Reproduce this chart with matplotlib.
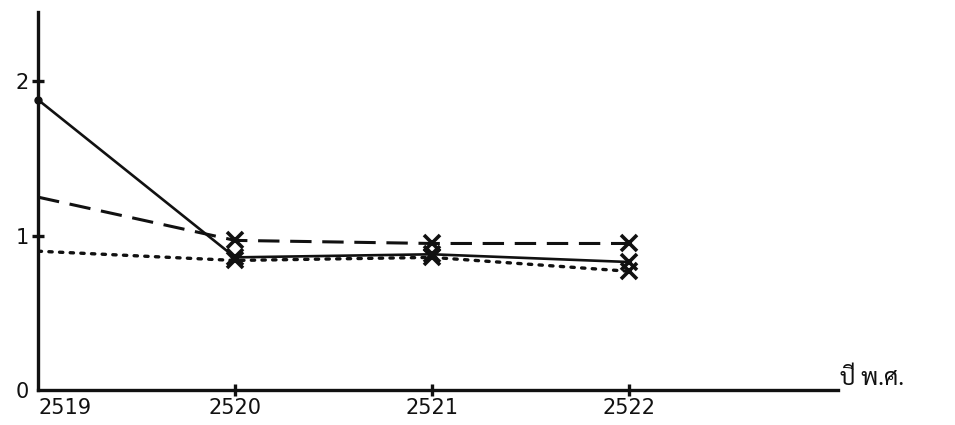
import matplotlib
matplotlib.use("Agg")
import matplotlib.pyplot as plt
from matplotlib import font_manager as fm

# Years (Buddhist Era) and the three indices plotted per year
years = [2519, 2520, 2521, 2522]
solid_vals = [1.88, 0.86, 0.88, 0.83]
dashed_vals = [1.25, 0.97, 0.95, 0.95]
dotted_vals = [0.90, 0.84, 0.86, 0.77]

x_tick_labels = ["2519", "2520", "2521", "2522"]
y_ticks = [0, 1, 2]
y_tick_labels = ["0", "1", "2"]
x_axis_label = "ปี พ.ศ."

available = {f.name for f in fm.fontManager.ttflist}
thai_family = [f for f in ["Sarabun", "Niramit", "Chonburi", "Kanit"] if f in available]
thai_family = (thai_family[:1] or []) + ["DejaVu Sans"]

plt.rcParams["font.family"] = ["DejaVu Sans"]

fig = plt.figure(figsize=(9.55, 4.25), dpi=100)
ax = fig.add_axes([0.040, 0.082, 0.837, 0.890])

ink = "#111111"
ax.plot(years, solid_vals, color=ink, lw=1.9, solid_capstyle="round")
ax.plot(years, dashed_vals, color=ink, lw=2.2, dashes=(7, 3.5))
ax.plot(years, dotted_vals, color=ink, lw=2.4, dashes=(1.0, 2.2), dash_capstyle="round")

for vals in (solid_vals, dashed_vals, dotted_vals):
    ax.plot(years[1:], vals[1:], linestyle="none", marker="x", ms=11, mew=2.6, color=ink)
ax.plot([years[0]], [solid_vals[0]], linestyle="none", marker="o", ms=5, color=ink, clip_on=False)

ax.set_xlim(2519, 2523.06)
ax.set_ylim(0, 2.45)

for side in ("top", "right"):
    ax.spines[side].set_visible(False)
for side in ("left", "bottom"):
    ax.spines[side].set_linewidth(2.4)
    ax.spines[side].set_color(ink)

ax.set_xticks(years)
ax.set_xticklabels(x_tick_labels, fontsize=15, color=ink)
labels = ax.get_xticklabels()
labels[0].set_horizontalalignment("left")
ax.set_yticks(y_ticks)
ax.set_yticklabels(y_tick_labels, fontsize=15, color=ink)
ax.tick_params(axis="both", direction="inout", length=9, width=2.4, color=ink)
ax.tick_params(axis="x", pad=1)
ax.tick_params(axis="y", pad=2)
ax.xaxis.get_major_ticks()[0].tick1line.set_visible(False)
ax.yaxis.get_major_ticks()[0].tick1line.set_visible(False)

ax.text(1.003, 0.0, x_axis_label, transform=ax.transAxes, ha="left", va="bottom",
        fontsize=17, family=thai_family, color=ink)

fig.savefig("out.png", dpi=100)
